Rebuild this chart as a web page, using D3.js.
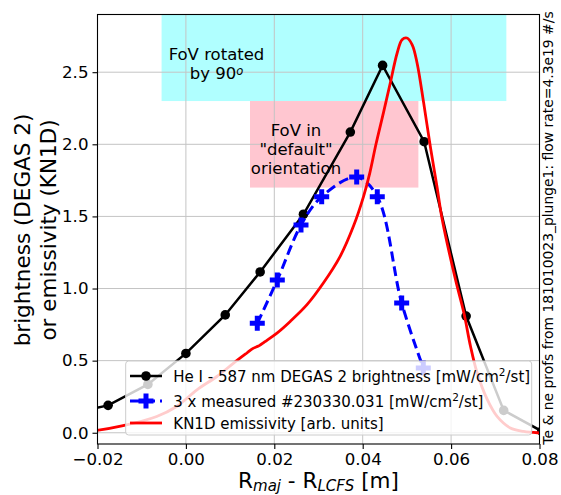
<!DOCTYPE html>
<html><head><meta charset="utf-8">
<script src="https://cdn.jsdelivr.net/npm/d3@7"></script>
<style>body{margin:0;background:#fff} text{font-family:"DejaVu Sans",sans-serif}</style>
</head><body><svg id="c" width="561" height="495"></svg>
<script>
const xTicks=[-0.02,0,0.02,0.04,0.06,0.08];
const yTicks=[0,0.5,1,1.5,2,2.5];
const degasX=[-0.0265,-0.0176,-0.0086,0.0000,0.0089,0.0168,0.0266,0.0372,0.0445,0.0539,0.0634,0.0719,0.0805];
const degasY=[0.13,0.19,0.335,0.55,0.817,1.115,1.515,2.085,2.547,2.018,0.809,0.155,0.011];
const measX=[0.01615,0.02068,0.02604,0.03072,0.03864,0.0433,0.04882,0.05371];
const measY=[0.759,1.059,1.44,1.637,1.773,1.637,0.899,0.449];
const kn1dX=[-0.0215,-0.0202,-0.0142,-0.0066,-0.0021,0.0025,0.0070,0.0108,0.0138,0.0152,0.0160,0.0166,0.0178,0.0206,0.0236,0.0274,0.0311,0.0349,0.0379,0.0402,0.0416,0.0430,0.0447,0.0462,0.0478,0.0489,0.0500,0.0512,0.0523,0.0538,0.0553,0.0568,0.0580,0.0610,0.0629,0.0644,0.0659,0.0682,0.0704,0.0734,0.0764,0.0795,0.0815];
const kn1dY=[0.012,0.016,0.049,0.113,0.182,0.298,0.39,0.483,0.553,0.585,0.596,0.604,0.630,0.691,0.772,0.888,1.038,1.223,1.431,1.639,1.80,2.00,2.22,2.42,2.633,2.725,2.737,2.69,2.564,2.286,1.985,1.708,1.477,1.061,0.83,0.598,0.414,0.229,0.113,0.033,0.009,0.0,0.0];
const fovRotated={x0:-0.0055,x1:0.0725,y0:2.3,y1:2.9};
const fovDefault={x0:0.0145,x1:0.0526,y0:1.7,y1:2.3};
const legendLabels=["He I - 587 nm DEGAS 2 brightness [mW/cm","3 x measured #230330.031 [mW/cm","KN1D emissivity [arb. units]"];
const sideNote="Te & ne profs from 181010023_plunge1: flow rate=4.3e19 #/s";

const svg=d3.select("#c");
const L=97.5,R=539.5,T=14.5,B=444;
const x=d3.scaleLinear().domain([-0.02,0.08]).range([L,R]);
const y=d3.scaleLinear().domain([-0.078,2.9]).range([B,T]);

svg.append("defs").append("clipPath").attr("id","clip").append("rect")
  .attr("x",L).attr("y",T).attr("width",R-L).attr("height",B-T);

// rectangles
svg.append("rect").attr("x",x(fovRotated.x0)).attr("y",y(fovRotated.y1))
  .attr("width",x(fovRotated.x1)-x(fovRotated.x0)).attr("height",y(fovRotated.y0)-y(fovRotated.y1))
  .attr("fill","#b0ffff").attr("clip-path","url(#clip)");
svg.append("rect").attr("x",x(fovDefault.x0)).attr("y",y(fovDefault.y1))
  .attr("width",x(fovDefault.x1)-x(fovDefault.x0)).attr("height",y(fovDefault.y0)-y(fovDefault.y1))
  .attr("fill","#ffc6d0");

// grid
const g=svg.append("g");
g.selectAll(".gx").data(xTicks).join("line").attr("x1",d=>x(d)).attr("x2",d=>x(d)).attr("y1",T).attr("y2",B)
  .attr("stroke","#c4c4c4").attr("stroke-width",1);
g.selectAll(".gy").data(yTicks).join("line").attr("y1",d=>y(d)).attr("y2",d=>y(d)).attr("x1",L).attr("x2",R)
  .attr("stroke","#c4c4c4").attr("stroke-width",1);

const plot=svg.append("g").attr("clip-path","url(#clip)");
const degas=degasX.map((d,i)=>[d,degasY[i]]);
const meas=measX.map((d,i)=>[d,measY[i]]);
const kn1d=kn1dX.map((d,i)=>[d,kn1dY[i]]);

plot.append("path").datum(degas).attr("d",d3.line().x(d=>x(d[0])).y(d=>y(d[1])))
  .attr("fill","none").attr("stroke","#000").attr("stroke-width",2.5);
plot.selectAll(".dot").data(degas).join("circle").attr("cx",d=>x(d[0])).attr("cy",d=>y(d[1])).attr("r",4.8).attr("fill","#000");

plot.append("path").datum(meas).attr("d",d3.line().curve(d3.curveCatmullRom).x(d=>x(d[0])).y(d=>y(d[1])))
  .attr("fill","none").attr("stroke","#0000ff").attr("stroke-width",3).attr("stroke-dasharray","10,5");
const plus=(s)=>{const a=s/2,b=s/6;return `M${-b},${-a}H${b}V${-b}H${a}V${b}H${b}V${a}H${-b}V${b}H${-a}V${-b}H${-b}Z`;};
plot.selectAll(".pl").data(meas).join("path").attr("d",plus(15)).attr("transform",d=>`translate(${x(d[0])},${y(d[1])})`).attr("fill","#0000ff");

plot.append("path").datum(kn1d).attr("d",d3.line().curve(d3.curveCatmullRom).x(d=>x(d[0])).y(d=>y(d[1])))
  .attr("fill","none").attr("stroke","#ff0000").attr("stroke-width",2.8);

// annotation texts
const t1=svg.append("g").attr("font-size","16.5px").attr("text-anchor","middle").attr("fill","#000");
t1.append("text").attr("x",216.5).attr("y",59.5).text("FoV rotated");
const t1b=t1.append("text").attr("x",216.5).attr("y",79);
t1b.append("tspan").text("by 90");
t1b.append("tspan").attr("font-size","11.5px").attr("font-style","italic").attr("dy",-4.5).text("o");
t1.append("text").attr("x",296).attr("y",136).text("FoV in");
t1.append("text").attr("x",296).attr("y",155).text('"default"');
t1.append("text").attr("x",296).attr("y",174).text("orientation");

// axes frame
svg.append("rect").attr("x",L).attr("y",T).attr("width",R-L).attr("height",B-T).attr("fill","none").attr("stroke","#000").attr("stroke-width",1.1);

const xa=svg.append("g").attr("transform",`translate(0,${B})`).call(d3.axisBottom(x).tickValues(xTicks).tickSize(5).tickPadding(4).tickFormat(d3.format(".2f")));
const ya=svg.append("g").attr("transform",`translate(${L},0)`).call(d3.axisLeft(y).tickValues(yTicks).tickSize(5).tickPadding(4).tickFormat(d3.format(".1f")));
[xa,ya].forEach(a=>{a.select(".domain").remove();a.selectAll("text").attr("font-size","16.67px").attr("font-family","DejaVu Sans").attr("fill","#000");a.selectAll("line").attr("stroke","#000").attr("stroke-width",1.1);});
xa.selectAll("text").text(d=>d3.format(".2f")(d).replace("-","\u2212"));

// axis labels
const xl=svg.append("text").attr("x",318.5).attr("y",487.5).attr("text-anchor","middle").attr("font-size","21.5px");
xl.append("tspan").text("R");
xl.append("tspan").attr("font-size","15px").attr("font-style","italic").attr("dy",3.5).text("maj");
xl.append("tspan").attr("dy",-3.5).text(" - R");
xl.append("tspan").attr("font-size","15px").attr("font-style","italic").attr("dy",3.5).text("LCFS");
xl.append("tspan").attr("dy",-3.5).text(" [m]");

const yl=svg.append("text").attr("transform","translate(30,230) rotate(-90)").attr("text-anchor","middle").attr("font-size","21.5px");
yl.append("tspan").attr("x",0).attr("y",0).text("brightness (DEGAS 2)");
yl.append("tspan").attr("x",0).attr("y",26).text("or emissivity (KN1D)");

svg.append("text").attr("transform","translate(553,228) rotate(-90)").attr("text-anchor","middle").attr("font-size","13.9px").text(sideNote);

// legend
const lg=svg.append("g");
lg.append("rect").attr("x",125.7).attr("y",361).attr("width",406).attr("height",74).attr("rx",3)
  .attr("fill","#fff").attr("fill-opacity",0.8).attr("stroke","#cccccc").attr("stroke-width",1);
const rows=[376,401,423];
const fs=15;
lg.append("line").attr("x1",130).attr("x2",162).attr("y1",rows[0]).attr("y2",rows[0]).attr("stroke","#000").attr("stroke-width",2.5);
lg.append("circle").attr("cx",146).attr("cy",rows[0]).attr("r",4.8).attr("fill","#000");
lg.append("line").attr("x1",130).attr("x2",162).attr("y1",rows[1]).attr("y2",rows[1]).attr("stroke","#0000ff").attr("stroke-width",3).attr("stroke-dasharray","10,5");
lg.append("path").attr("d",plus(15)).attr("transform",`translate(146,${rows[1]})`).attr("fill","#0000ff");
lg.append("line").attr("x1",130).attr("x2",162).attr("y1",rows[2]).attr("y2",rows[2]).attr("stroke","#ff0000").attr("stroke-width",2.8);
legendLabels.forEach((lab,i)=>{
  const t=lg.append("text").attr("x",173.3).attr("y",rows[i]+5.5).attr("font-size",fs+"px");
  t.append("tspan").text(lab);
  if(i<2){
    t.append("tspan").attr("font-size","10.5px").attr("dy",-6).text("2");
    t.append("tspan").attr("dy",6).text("/st]");
  }
});
</script></body></html>
